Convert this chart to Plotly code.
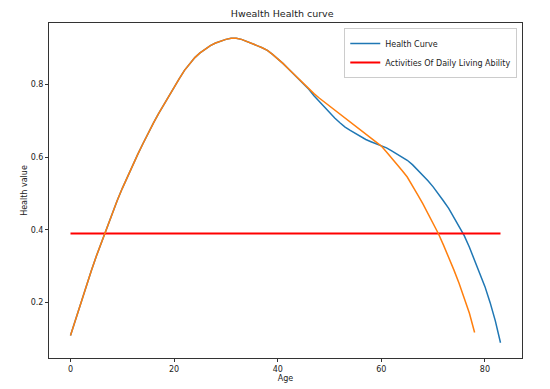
import plotly.graph_objects as go

ages_orange = list(range(0, 79))
health_orange = [
    0.110, 0.155, 0.200, 0.243, 0.287, 0.328, 0.367, 0.405, 0.443, 0.480,
    0.514, 0.547, 0.578, 0.608, 0.637, 0.666, 0.693, 0.719, 0.744, 0.768,
    0.792, 0.815, 0.838, 0.857, 0.873, 0.886, 0.897, 0.906, 0.913, 0.919,
    0.923, 0.926, 0.926, 0.923, 0.918, 0.912, 0.906, 0.900, 0.893, 0.882,
    0.870, 0.857, 0.843, 0.829, 0.814, 0.800, 0.786, 0.774, 0.762, 0.751,
    0.740, 0.728, 0.716, 0.705, 0.694, 0.684, 0.673, 0.662, 0.652, 0.641,
    0.630, 0.614, 0.598, 0.581, 0.563, 0.545, 0.522, 0.497, 0.472, 0.446,
    0.418, 0.390, 0.358, 0.325, 0.290, 0.253, 0.213, 0.171, 0.118,
]

ages_blue = list(range(0, 84))
health_blue_tail = [
    0.768, 0.752, 0.736, 0.720, 0.707, 0.694, 0.682, 0.673, 0.664, 0.656,
    0.648, 0.642, 0.637, 0.632, 0.625, 0.617, 0.609, 0.600, 0.591, 0.579,
    0.565, 0.550, 0.535, 0.518, 0.500, 0.479, 0.459, 0.433, 0.411, 0.384,
    0.352, 0.317, 0.282, 0.244, 0.200, 0.150, 0.090,
]
health_blue = health_orange[:47] + health_blue_tail

adl_ages = [0, 83]
adl_value = [0.39, 0.39]

xticks = [0, 20, 40, 60, 80]
yticks = [0.2, 0.4, 0.6, 0.8]

font = "DejaVu Sans"

fig = go.Figure()
fig.add_trace(go.Scatter(x=ages_blue, y=health_blue, mode="lines", name="Health Curve",
                         line=dict(color="#1f77b4", width=1.5)))
fig.add_trace(go.Scatter(x=adl_ages, y=adl_value, mode="lines", name="Activities Of Daily Living Ability",
                         line=dict(color="#ff0000", width=2)))
fig.add_trace(go.Scatter(x=ages_orange, y=health_orange, mode="lines", showlegend=False,
                         line=dict(color="#ff7f0e", width=1.5)))

axis_common = dict(showgrid=False, zeroline=False, showline=True, linecolor="#333333",
                   linewidth=1, mirror=True, ticks="outside", ticklen=3, tickwidth=1,
                   tickcolor="#333333", automargin=False,
                   tickfont=dict(family=font, size=8, color="#222222"))

fig.update_layout(
    width=550, height=389,
    margin=dict(l=49, r=28, t=23, b=31, autoexpand=False),
    paper_bgcolor="white", plot_bgcolor="white",
    title=dict(text="Hwealth Health curve", x=0.513, xanchor="center", y=0.964, yanchor="middle",
               font=dict(family=font, size=9.5, color="#222222")),
    xaxis=dict(range=[-4.15, 87.15], tickvals=xticks, ticktext=[str(v) for v in xticks],
               title=dict(text="Age", font=dict(family=font, size=8, color="#222222"), standoff=0),
               **axis_common),
    yaxis=dict(range=[0.048, 0.968], tickvals=yticks, ticktext=[f"{v:.1f}" for v in yticks],
               title=dict(text="Health value", font=dict(family=font, size=8, color="#222222"), standoff=1),
               **axis_common),
    legend=dict(x=0.99, y=0.985, xanchor="right", yanchor="top", bgcolor="white",
                bordercolor="#cccccc", borderwidth=1, itemwidth=30,
                font=dict(family=font, size=8, color="#222222"), tracegroupgap=0),
    showlegend=True,
)

fig.write_html("out.html", config={"displayModeBar": False},
               post_script="document.body.style.margin='0px';")
